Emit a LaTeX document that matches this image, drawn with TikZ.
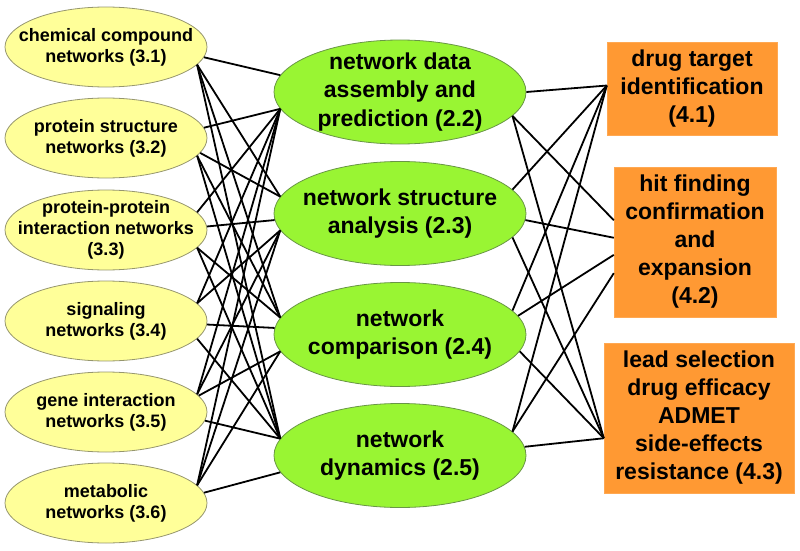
\documentclass[tikz,border=0pt]{standalone}
\usepackage{fontspec}
\setmainfont{Liberation Sans}
\usetikzlibrary{shapes.geometric}

\definecolor{netyellow}{RGB}{255,255,153}
\definecolor{netyellowline}{RGB}{150,150,110}
\definecolor{methgreen}{RGB}{153,245,51}
\definecolor{methgreenline}{RGB}{105,150,70}
\definecolor{apporange}{RGB}{255,153,51}

\begin{document}
\begin{tikzpicture}[x=1pt,y=-1pt,
    netnode/.style={ellipse,draw=netyellowline,fill=netyellow,line width=0.8pt,minimum width=202pt,minimum height=80pt,inner xsep=-25pt,inner ysep=-6pt,align=center,font=\fontsize{18}{21}\selectfont\bfseries},
    methnode/.style={ellipse,draw=methgreenline,fill=methgreen,line width=0.8pt,minimum width=252pt,minimum height=104pt,inner xsep=-30pt,inner ysep=-10pt,align=center,font=\fontsize{23}{28.5}\selectfont\bfseries},
    appnode/.style={rectangle,fill=apporange,draw=apporange!85!white,inner sep=0pt,align=center,font=\fontsize{23}{28}\selectfont\bfseries},
    link/.style={line width=1.8pt,black}]
        \useasboundingbox (0,0) rectangle (800,551);
        % networks (section 3)
        \node (l1) at (106,47) [netnode] {chemical compound\\networks (3.1)};
        \node (l2) at (106,138) [netnode] {protein structure\\networks (3.2)};
        \node (l3) at (106,230) [netnode] {protein-protein\\interaction networks\\(3.3)};
        \node (l4) at (106,321) [netnode] {signaling\\networks (3.4)};
        \node (l5) at (106,412) [netnode] {gene interaction\\networks (3.5)};
        \node (l6) at (106,503) [netnode] {metabolic\\networks (3.6)};
        % methods (section 2)
        \node (m1) at (400,92) [methnode] {network data\\assembly and\\prediction (2.2)};
        \node (m2) at (400,213.5) [methnode] {network structure\\analysis (2.3)};
        \node (m3) at (400,334.5) [methnode] {network\\comparison (2.4)};
        \node (m4) at (400,455.5) [methnode] {network\\dynamics (2.5)};
        % applications (section 4)
        \node (r1) at (692,88.5) [appnode,minimum width=170pt,minimum height=93pt] {drug target\\identification\\(4.1)};
        \node (r2) at (695,242) [appnode,minimum width=162pt,minimum height=150pt] {hit finding\\confirmation\\and\\expansion\\(4.2)};
        \node (r3) at (699,418) [appnode,minimum width=190pt,minimum height=150pt] {lead selection\\drug efficacy\\ADMET\\side-effects\\resistance (4.3)};
        % networks -> methods
        \foreach \i/\yi in {l1/47,l2/138,l3/230,l4/321,l5/412,l6/503}
          \foreach \j/\yj in {m1/92,m2/213.5,m3/334.5,m4/455.5}{
            \pgfmathtruncatemacro\aout{round(min(max(-(\yj-\yi)/8,-11),11))}
            \pgfmathtruncatemacro\ain{round(180-min(max((\yj-\yi)/5,-8),8))}
            \draw[link] (\i.\aout) -- (\j.\ain);
          }
        % methods -> applications
        \foreach \j/\yj in {m1/92,m2/213.5,m3/334.5,m4/455.5}{
          \pgfmathtruncatemacro\aone{round(min(max(-(88.5-\yj)/10,-12),12))}
          \pgfmathtruncatemacro\atwo{round(min(max(-(242-\yj)/10,-12),12))}
          \pgfmathtruncatemacro\athree{round(min(max(-(418-\yj)/10,-12),12))}
          \pgfmathtruncatemacro\bin{round(180+(\yj-242)/10)}
          \draw[link] (\j.\aone) -- (r1.178);
          \draw[link] (\j.\atwo) -- (r2.\bin);
          \draw[link] (\j.\athree) -- (r3.192);
        }
\end{tikzpicture}
\end{document}
